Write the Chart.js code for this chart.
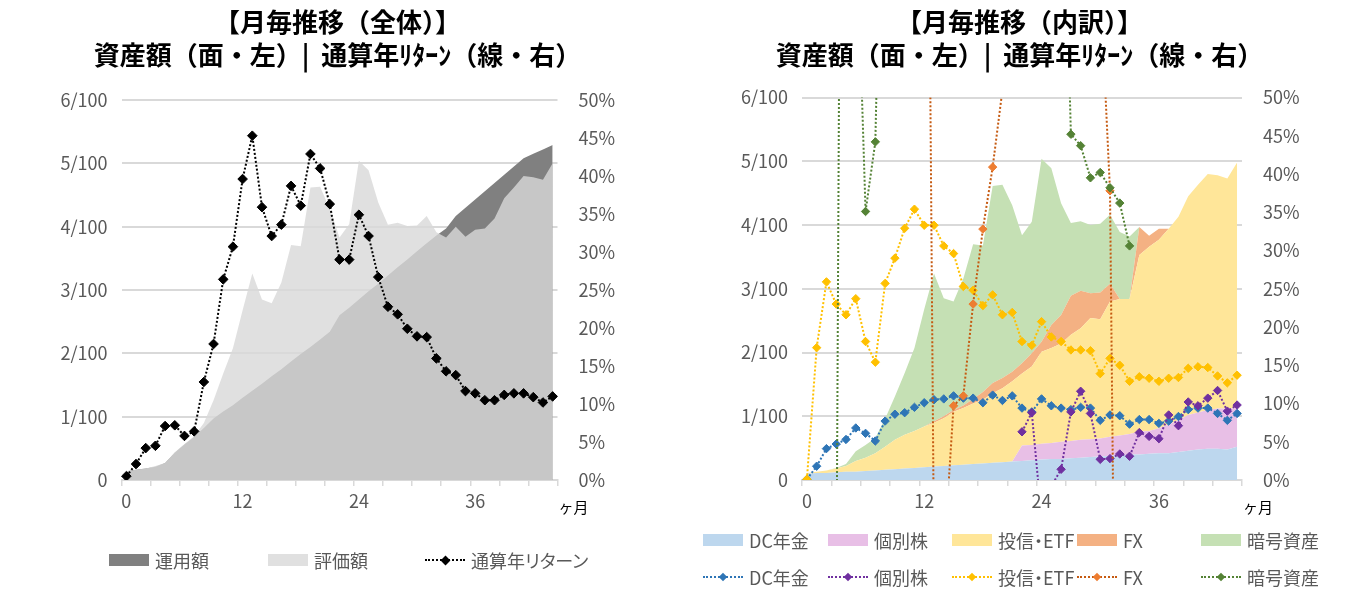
<!DOCTYPE html>
<html lang="ja">
<head>
<meta charset="utf-8">
<title>月毎推移</title>
<script src="https://cdn.jsdelivr.net/npm/chart.js@4.4.1/dist/chart.umd.min.js"></script>
<style>
    html, body { margin: 0; padding: 0; background: #fff; }
    body {
        position: relative;
        width: 1349px;
        height: 613px;
        overflow: hidden;
        font-family: "Noto Sans CJK JP", "Noto Sans", sans-serif;
    }
    canvas { position: absolute; top: 0; }
    #totalChart { left: 0; }
    #detailChart { left: 690px; }
    .legend-item {
        position: absolute;
        display: flex;
        align-items: center;
        height: 24px;
        font-size: 18px;
        color: #595959;
        white-space: nowrap;
        font-feature-settings: "palt";
    }
    .legend-item .text { position: relative; z-index: 2; }
    .sym-box { display: inline-block; width: 40px; height: 12px; margin-right: 6px; }
    .sym-line { position: relative; display: inline-block; width: 40px; height: 12px; margin-right: 6px; }
    .sym-line .dots { position: absolute; left: 0; right: 0; top: 5px; border-top: 2px dotted; }
    .sym-line .mark { position: absolute; transform: rotate(45deg); }
</style>
</head>
<body>
<canvas id="totalChart" width="675" height="613"></canvas>
<canvas id="detailChart" width="659" height="613"></canvas>
<div id="legendArea"></div>

<script>
// 経過月 (横軸)
const months = ['0', '1', '2', '3', '4', '5', '6', '7', '8', '9', '10', '11', '12', '13', '14',
    '15', '16', '17', '18', '19', '20', '21', '22', '23', '24', '25', '26', '27', '28', '29',
    '30', '31', '32', '33', '34', '35', '36', '37', '38', '39', '40', '41', '42', '43', '44'];
const shownMonths = ['0', '12', '24', '36'];
const amountTicks = ['0', '1/100', '2/100', '3/100', '4/100', '5/100', '6/100'];
const rateTicks = ['0%', '5%', '10%', '15%', '20%', '25%', '30%', '35%', '40%', '45%', '50%'];

const titleTotal = ['【月毎推移（全体）】', '資産額（面・左）|  通算年ﾘﾀｰﾝ（線・右）'];
const titleDetail = ['【月毎推移（内訳）】', '資産額（面・左）|  通算年ﾘﾀｰﾝ（線・右）'];

// 全体 (単位: 1/100)
const invested = [0.14, 0.16, 0.18, 0.21, 0.27, 0.43, 0.56, 0.68, 0.82, 0.97,
    1.08, 1.18, 1.30, 1.41, 1.52, 1.64, 1.75, 1.87, 1.99, 2.10,
    2.22, 2.34, 2.60, 2.72, 2.85, 2.98, 3.10, 3.23, 3.36, 3.48,
    3.61, 3.74, 3.86, 3.97, 4.17, 4.30, 4.43, 4.56, 4.69, 4.82,
    4.95, 5.08, 5.15, 5.22, 5.29];
const valuation = [0.14, 0.16, 0.18, 0.22, 0.27, 0.44, 0.57, 0.69, 0.90, 1.26,
    1.68, 2.08, 2.68, 3.26, 2.85, 2.79, 3.12, 3.71, 3.69, 4.62,
    4.63, 4.28, 3.83, 4.04, 5.04, 4.89, 4.38, 4.03, 4.06, 4.01,
    4.02, 4.17, 3.91, 3.83, 4.00, 3.84, 3.95, 3.97, 4.13, 4.45,
    4.62, 4.80, 4.78, 4.74, 5.00];
// 通算年リターン (%)
const totalReturn = [0.5, 2.1, 4.2, 4.5, 7.1, 7.2, 5.8, 6.4, 12.9, 17.9,
    26.4, 30.7, 39.6, 45.3, 35.9, 32.1, 33.6, 38.7, 36.1, 42.9,
    41.0, 36.3, 29.0, 29.0, 34.9, 32.1, 26.7, 22.8, 21.8, 19.9,
    18.9, 18.8, 16.0, 14.3, 13.8, 11.7, 11.4, 10.5, 10.5, 11.2,
    11.4, 11.4, 10.9, 10.2, 11.0];

// 内訳 資産額 (単位: 1/100)
const dcAmount = [0.10, 0.11, 0.11, 0.12, 0.13, 0.13, 0.14, 0.15, 0.16, 0.17,
    0.18, 0.19, 0.20, 0.21, 0.22, 0.23, 0.24, 0.25, 0.26, 0.27,
    0.28, 0.29, 0.30, 0.31, 0.32, 0.33, 0.33, 0.34, 0.35, 0.36,
    0.37, 0.38, 0.39, 0.40, 0.40, 0.41, 0.42, 0.42, 0.44, 0.46,
    0.48, 0.49, 0.49, 0.48, 0.52];
const stockAmount = [0, 0, 0, 0, 0, 0, 0, 0, 0, 0,
    0, 0, 0, 0, 0, 0, 0, 0, 0, 0,
    0, 0, 0.24, 0.24, 0.25, 0.25, 0.27, 0.27, 0.28, 0.28,
    0.28, 0.30, 0.31, 0.32, 0.36, 0.36, 0.39, 0.45, 0.50, 0.56,
    0.58, 0.61, 0.63, 0.64, 0.61];
const fundAmount = [0.01, 0.02, 0.04, 0.06, 0.09, 0.17, 0.21, 0.27, 0.36, 0.46,
    0.53, 0.58, 0.64, 0.69, 0.75, 0.84, 0.89, 0.95, 1.00, 1.09,
    1.16, 1.26, 1.13, 1.23, 1.44, 1.49, 1.54, 1.67, 1.75, 1.90,
    1.87, 2.12, 2.14, 2.12, 2.77, 2.89, 2.96, 3.07, 3.19, 3.43,
    3.57, 3.70, 3.66, 3.61, 3.85];
const fxAmount = [0, 0, 0, 0, 0, 0, 0, 0, 0, 0,
    0, 0, 0, 0.02, 0.03, 0.03, 0.04, 0.07, 0.12, 0.16,
    0.16, 0.15, 0.16, 0.21, 0.16, 0.36, 0.45, 0.61, 0.59, 0.39,
    0.42, 0.28, 0, 0, 0.44, 0.17, 0.17, 0, 0, 0,
    0, 0, 0, 0, 0];
const cryptoAmount = [0, 0, 0, 0.01, 0.03, 0.15, 0.20, 0.24, 0.44, 0.68,
    0.97, 1.30, 1.84, 2.32, 1.85, 1.70, 1.99, 2.43, 2.30, 3.09,
    3.03, 2.61, 2.01, 2.06, 2.87, 2.46, 1.75, 1.14, 1.09, 1.07,
    1.08, 1.08, 1.05, 0.98, 0, 0, 0, 0, 0, 0,
    0, 0, 0, 0, 0];

// 内訳 通算年リターン (%)
const dcReturn = [0.1, 1.8, 4.1, 4.7, 5.3, 6.8, 6.1, 5.1, 7.7, 8.6,
    8.8, 9.5, 10.1, 10.5, 10.6, 11.0, 10.7, 10.7, 10.1, 11.1,
    10.4, 11.0, 9.4, 8.9, 10.6, 9.7, 9.4, 9.2, 9.5, 9.4,
    7.8, 8.5, 8.4, 7.3, 7.9, 7.9, 7.4, 7.7, 8.3, 9.2,
    9.4, 9.4, 8.7, 7.8, 8.7];
const stockReturn = [null, null, null, null, null, null, null, null, null, null,
    null, null, null, null, null, null, null, null, null, null,
    null, null, 6.3, 8.8, -5.0, -0.8, 1.4, 8.9, 11.6, 8.7,
    2.7, 2.8, 3.4, 3.1, 6.2, 5.7, 5.4, 8.5, 7.1, 10.2,
    9.7, 10.7, 11.7, 9.0, 9.8];
const fundReturn = [0.1, 17.3, 25.9, 23.0, 21.6, 23.7, 18.1, 15.4, 25.7, 29.0,
    32.9, 35.4, 33.3, 33.3, 30.6, 29.6, 25.3, 24.8, 22.8, 24.2,
    21.6, 21.9, 18.1, 17.6, 20.7, 18.7, 18.1, 17.0, 17.0, 16.9,
    13.9, 15.9, 15.0, 12.9, 13.5, 13.3, 12.9, 13.3, 13.4, 14.6,
    14.8, 14.7, 13.6, 12.7, 13.7];
const fxReturn = [null, null, null, null, null, null, null, null, null, null,
    null, null, 152, -10, -10.5, 9.7, 11.0, 23.0, 32.8, 40.9,
    51, 85, 120, 140, 160, 150, 170, 180, 160, 120,
    65, 37.8, -88, null, null, null, null, null, null, null,
    null, null, null, null, null];
const cryptoReturn = [null, null, null, -20, 230, 76, 35.1, 44.2, 102, 150,
    190, 230, 260, 280, 200, 170, 180, 200, 170, 210,
    190, 160, 120, 110, 150, 130, 93, 45.2, 43.7, 39.5,
    40.2, 38.2, 36.2, 30.6, null, null, null, null, null, null,
    null, null, null, null, null];

const detailNames = ['DC年金', '個別株', '投信・ETF', 'FX', '暗号資産'];
const areaColors = ['#bdd7ee', '#e8bfe6', '#ffe699', '#f4b183', '#c5e0b4'];
const lineColors = ['#2e75b6', '#7030a0', '#ffc000', '#c55a11', '#548235'];
const markerColors = ['#2e75b6', '#7030a0', '#ffc000', '#ed7d31', '#548235'];

document.addEventListener('DOMContentLoaded', function () {
    const fontFamily = '"Noto Sans CJK JP", "Noto Sans", sans-serif';
    const labelColor = '#595959';
    const gridColor = '#d9d9d9';

    const unitLabel = {
        id: 'unitLabel',
        afterDraw(chart) {
            const { ctx, chartArea } = chart;
            ctx.save();
            ctx.font = '15px ' + fontFamily;
            ctx.fillStyle = '#000';
            ctx.textBaseline = 'middle';
            ctx.textAlign = 'left';
            ctx.fillText('ヶ月', chartArea.right + 1, chartArea.bottom + 27);
            ctx.restore();
        }
    };

    // Excel 同様、軸範囲外のマーカーは描かない
    function markerRadius(size) {
        return ctx => {
            const v = ctx.raw;
            return (v === null || v < 0 || v > 50) ? 0 : size;
        };
    }

    function buildScales(box, stacked) {
        return {
            x: {
                type: 'category',
                offset: true,
                grid: {
                    offset: true,
                    drawOnChartArea: false,
                    drawTicks: true,
                    tickLength: 6,
                    lineWidth: 1.5,
                    color: ctx => (ctx.index === undefined || ctx.index % 3 === 0) ? gridColor : 'rgba(0,0,0,0)'
                },
                border: { display: true, color: gridColor, width: 2 },
                ticks: {
                    autoSkip: false,
                    maxRotation: 0,
                    padding: 4,
                    color: labelColor,
                    font: { family: fontFamily, size: 18 },
                    callback: function (value) {
                        const label = this.getLabelForValue(value);
                        return shownMonths.includes(label) ? label : '';
                    }
                },
                afterFit: scale => { scale.height = box.bottom; }
            },
            y: {
                position: 'left',
                stacked: stacked,
                min: 0,
                max: 6,
                grid: { color: gridColor, lineWidth: 2, drawTicks: false },
                border: { display: false },
                ticks: {
                    stepSize: 1,
                    padding: 14,
                    color: labelColor,
                    font: { family: fontFamily, size: 18 },
                    callback: value => amountTicks[value]
                },
                afterFit: scale => { scale.width = box.left; }
            },
            y1: {
                position: 'right',
                min: 0,
                max: 50,
                grid: { display: false },
                border: { display: false },
                ticks: {
                    stepSize: 5,
                    padding: 13,
                    color: labelColor,
                    font: { family: fontFamily, size: 18 },
                    callback: value => rateTicks[value / 5]
                },
                afterFit: scale => { scale.width = box.right; }
            }
        };
    }

    function buildOptions(title, box, stacked) {
        return {
            responsive: false,
            animation: false,
            devicePixelRatio: 1,
            events: [],
            layout: { padding: 0 },
            plugins: {
                legend: { display: false },
                tooltip: { enabled: false },
                title: {
                    display: true,
                    text: title,
                    color: '#000',
                    font: { family: fontFamily, size: 26, weight: 'bold', lineHeight: '33px' },
                    padding: { top: 6, bottom: box.titleGap }
                }
            },
            scales: buildScales(box, stacked)
        };
    }

    function areaDataset(label, data, color, fill, order) {
        return {
            label: label,
            data: data,
            yAxisID: 'y',
            fill: fill,
            backgroundColor: color,
            borderColor: 'rgba(0,0,0,0)',
            borderWidth: 0,
            pointRadius: 0,
            tension: 0,
            order: order
        };
    }

    function returnDataset(label, data, lineColor, markerColor, size, order) {
        return {
            label: label,
            data: data,
            yAxisID: 'y1',
            fill: false,
            borderColor: lineColor,
            borderWidth: 2,
            borderDash: [2, 2],
            pointStyle: 'rectRot',
            pointRadius: markerRadius(size),
            pointBackgroundColor: markerColor,
            pointBorderColor: markerColor,
            pointBorderWidth: 1,
            tension: 0,
            order: order
        };
    }

    // 左: 全体
    new Chart(document.getElementById('totalChart'), {
        type: 'line',
        data: {
            labels: months,
            datasets: [
                areaDataset('評価額', valuation, 'rgba(216, 216, 216, 0.8)', 'origin', 1),
                areaDataset('運用額', invested, '#808080', 'origin', 2),
                returnDataset('通算年リターン', totalReturn, '#000', '#000', 4.8, 0)
            ]
        },
        options: buildOptions(titleTotal, { left: 121.5, right: 117.5, bottom: 133, titleGap: 28 }, false),
        plugins: [unitLabel]
    });

    // 右: 内訳 (積み上げ順 = order 昇順)
    const amountSeries = [dcAmount, stockAmount, fundAmount, fxAmount, cryptoAmount];
    const returnSeries = [dcReturn, stockReturn, fundReturn, fxReturn, cryptoReturn];
    const detailSets = [];
    amountSeries.forEach((data, i) => {
        detailSets.push(areaDataset(detailNames[i], data, areaColors[i], i === 0 ? 'origin' : '-1', 10 + i));
    });
    returnSeries.forEach((data, i) => {
        detailSets.push(returnDataset(detailNames[i], data, lineColors[i], markerColors[i], 4.2, 5 - i));
    });

    new Chart(document.getElementById('detailChart'), {
        type: 'line',
        data: { labels: months, datasets: detailSets },
        options: buildOptions(titleDetail, { left: 112, right: 107, bottom: 133, titleGap: 25.5 }, true),
        plugins: [unitLabel]
    });

    // 凡例 (Excel 風の列揃え)
    const legendArea = document.getElementById('legendArea');

    function addLegendItem(x, centerY, label, symbol) {
        const item = document.createElement('div');
        item.className = 'legend-item';
        item.style.left = x + 'px';
        item.style.top = (centerY - 12) + 'px';
        const text = document.createElement('span');
        text.className = 'text';
        text.textContent = label;
        item.appendChild(symbol);
        item.appendChild(text);
        legendArea.appendChild(item);
    }

    function boxSymbol(color) {
        const el = document.createElement('span');
        el.className = 'sym-box';
        el.style.background = color;
        return el;
    }

    function lineSymbol(lineColor, markerColor, side) {
        const el = document.createElement('span');
        el.className = 'sym-line';
        const dots = document.createElement('span');
        dots.className = 'dots';
        dots.style.borderTopColor = lineColor;
        const mark = document.createElement('span');
        mark.className = 'mark';
        mark.style.width = side + 'px';
        mark.style.height = side + 'px';
        mark.style.left = (20 - side / 2) + 'px';
        mark.style.top = (6 - side / 2) + 'px';
        mark.style.background = markerColor;
        el.appendChild(dots);
        el.appendChild(mark);
        return el;
    }

    addLegendItem(109, 560, '運用額', boxSymbol('#808080'));
    addLegendItem(268, 560, '評価額', boxSymbol('rgba(216, 216, 216, 0.8)'));
    addLegendItem(425, 560, '通算年リターン', lineSymbol('#000', '#000', 7));

    const legendCols = [703, 828, 952, 1077, 1201];
    detailNames.forEach((name, i) => {
        addLegendItem(legendCols[i], 540, name, boxSymbol(areaColors[i]));
        addLegendItem(legendCols[i], 577, name, lineSymbol(lineColors[i], markerColors[i], 6));
    });
});
</script>
</body>
</html>
